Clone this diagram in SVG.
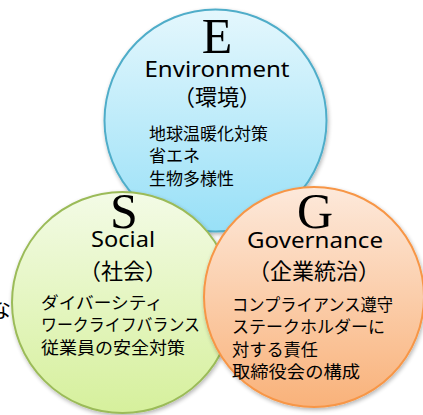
<svg xmlns="http://www.w3.org/2000/svg" width="423" height="415" viewBox="0 0 423 415">
<style>
.big{font-family:"Liberation Serif","Times New Roman",serif;font-size:50px;fill:#000;text-anchor:middle}
.en{font-family:"Noto Sans","Liberation Sans",sans-serif;font-size:21px;fill:#000;text-anchor:middle}
.jp{font-family:"Noto Sans CJK JP",sans-serif;font-size:22px;fill:#000;text-anchor:middle}
.item{font-family:"Noto Sans CJK JP",sans-serif;font-size:17px;fill:#000}
</style>
<defs>
<linearGradient id="gE" x1="0" y1="0" x2="0" y2="1"><stop offset="0" stop-color="#e4f7fd"/><stop offset="1" stop-color="#98e0f7"/></linearGradient>
<linearGradient id="gS" x1="0" y1="0" x2="0" y2="1"><stop offset="0" stop-color="#f3fbe6"/><stop offset="1" stop-color="#d6f09c"/></linearGradient>
<linearGradient id="gG" x1="0" y1="0" x2="0" y2="1"><stop offset="0" stop-color="#fde9db"/><stop offset="1" stop-color="#f9b27a"/></linearGradient>
<filter id="sh" x="-10%" y="-10%" width="120%" height="120%"><feGaussianBlur in="SourceAlpha" stdDeviation="2"/><feOffset dx="1" dy="2"/><feComponentTransfer><feFuncA type="linear" slope="0.3"/></feComponentTransfer><feMerge><feMergeNode/><feMergeNode in="SourceGraphic"/></feMerge></filter>
</defs>
<rect width="423" height="415" fill="#fff"/>
<text class="jp" x="-11" y="317" style="text-anchor:start">な</text>
<g id="nodeE">
<circle cx="215.5" cy="120.5" r="111" fill="url(#gE)" stroke="#4fadc9" stroke-width="2" filter="url(#sh)"/>
<text class="big" x="217" y="53">E</text>
<text class="en" x="217" y="77" textLength="145" lengthAdjust="spacingAndGlyphs">Environment</text>
<text class="jp" x="217" y="105">（環境）</text>
<text class="item" x="149" y="140">地球温暖化対策</text>
<text class="item" x="149" y="162">省エネ</text>
<text class="item" x="149" y="185">生物多様性</text>
</g>
<g id="nodeS">
<circle cx="122.5" cy="302.5" r="110.5" fill="url(#gS)" stroke="#9bbb59" stroke-width="2" filter="url(#sh)"/>
<text class="big" x="124" y="228">S</text>
<text class="en" x="123" y="247" textLength="64" lengthAdjust="spacingAndGlyphs">Social</text>
<text class="jp" x="123" y="279">（社会）</text>
<text class="item" x="41" y="309" textLength="122" lengthAdjust="spacingAndGlyphs">ダイバーシティ</text>
<text class="item" x="41" y="331" textLength="159" lengthAdjust="spacingAndGlyphs">ワークライフバランス</text>
<text class="item" x="41" y="354" textLength="144" lengthAdjust="spacingAndGlyphs">従業員の安全対策</text>
</g>
<g id="nodeG">
<circle cx="314" cy="297" r="110" fill="url(#gG)" stroke="#f79646" stroke-width="2" filter="url(#sh)"/>
<text class="big" x="315" y="228">G</text>
<text class="en" x="315" y="248" textLength="136" lengthAdjust="spacingAndGlyphs">Governance</text>
<text class="jp" x="314" y="279">（企業統治）</text>
<text class="item" x="232" y="311" textLength="161" lengthAdjust="spacingAndGlyphs">コンプライアンス遵守</text>
<text class="item" x="232" y="333" textLength="153" lengthAdjust="spacingAndGlyphs">ステークホルダーに</text>
<text class="item" x="232" y="356" textLength="86" lengthAdjust="spacingAndGlyphs">対する責任</text>
<text class="item" x="232" y="378" textLength="128" lengthAdjust="spacingAndGlyphs">取締役会の構成</text>
</g>
<g id="connectors"></g>
</svg>
